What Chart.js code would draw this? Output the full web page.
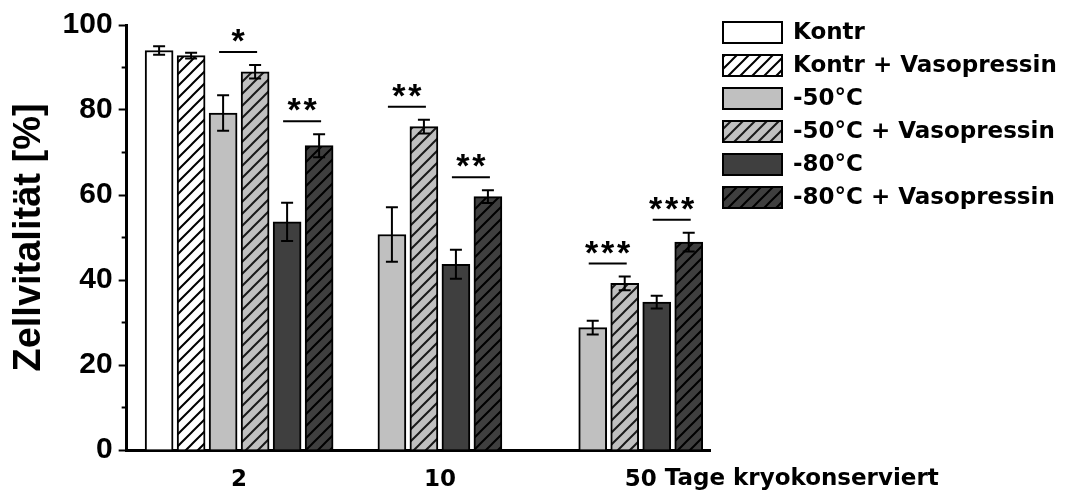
<!DOCTYPE html>
<html>
<head>
<meta charset="utf-8">
<script src="https://cdn.jsdelivr.net/npm/chart.js@4.4.1/dist/chart.umd.min.js"></script>
<style>
  html, body { margin: 0; padding: 0; background: #fff; }
  #wrap { width: 1070px; height: 496px; }
</style>
</head>
<body>
<div id="wrap"><canvas id="c" width="1070" height="496"></canvas></div>
<script>
// Storage time groups (days) and axis texts
const categories = ['2', '10', '50'];
const xAxisTitle = 'Tage kryokonserviert';
const yAxisTitle = 'Zellvitalität [%]';
const yTicks = [0, 20, 40, 60, 80, 100];
const yMinorTicks = [10, 30, 50, 70, 90];

// Series: mean cell viability and error per group
const seriesNames = ['Kontr', 'Kontr + Vasopressin', '-50°C', '-50°C + Vasopressin', '-80°C', '-80°C + Vasopressin'];
const kontr = [94.0, null, null];
const kontrErr = [1.0, null, null];
const kontrVaso = [92.8, null, null];
const kontrVasoErr = [0.7, null, null];
const minus50 = [79.3, 50.7, 28.8];
const minus50Err = [4.2, 6.4, 1.6];
const minus50Vaso = [89.0, 76.1, 39.2];
const minus50VasoErr = [1.6, 1.6, 1.6];
const minus80 = [53.7, 43.7, 34.8];
const minus80Err = [4.5, 3.4, 1.5];
const minus80Vaso = [71.6, 59.6, 48.9];
const minus80VasoErr = [2.7, 1.5, 2.2];

// Significance brackets: group index, compared series pair, label
const sigGroup = [0, 0, 1, 1, 2, 2];
const sigPairs = [[2, 3], [4, 5], [2, 3], [4, 5], [2, 3], [4, 5]];
const sigLabels = ['*', '**', '**', '**', '***', '***'];

const seriesValues = [kontr, kontrVaso, minus50, minus50Vaso, minus80, minus80Vaso];
const seriesErrors = [kontrErr, kontrVasoErr, minus50Err, minus50VasoErr, minus80Err, minus80VasoErr];

// Diagonal hatch fill
function hatch(bg, fg) {
  const s = 12;
  const c = document.createElement('canvas');
  c.width = s; c.height = s;
  const g = c.getContext('2d');
  g.fillStyle = bg;
  g.fillRect(0, 0, s, s);
  g.strokeStyle = fg;
  g.lineWidth = 2;
  g.beginPath();
  g.moveTo(-2, s + 2); g.lineTo(s + 2, -2);
  g.moveTo(-2, 2); g.lineTo(2, -2);
  g.moveTo(s - 2, s + 2); g.lineTo(s + 2, s - 2);
  g.stroke();
  return g.createPattern(c, 'repeat');
}

const LIGHT = '#c0c0c0';
const DARK = '#3f3f3f';
const fills = [
  '#ffffff',
  hatch('#ffffff', '#000000'),
  LIGHT,
  hatch(LIGHT, '#1a1a1a'),
  DARK,
  hatch(DARK, '#000000')
];

const datasets = seriesNames.map((name, k) => ({
  label: name,
  data: seriesValues[k].map((v, i) => ({ x: i, y: v })),
  backgroundColor: fills[k],
  borderColor: '#000',
  borderWidth: 2
}));

const sansBold = (size, family) => ({ family: family || 'Liberation Sans', weight: 'bold', size: size });

// Error bars drawn from the series errors
const errorBars = {
  id: 'errorBars',
  afterDatasetsDraw(chart) {
    const ctx = chart.ctx;
    const y = chart.scales.y;
    ctx.save();
    ctx.strokeStyle = '#000';
    ctx.lineWidth = 2;
    chart.data.datasets.forEach((ds, k) => {
      const meta = chart.getDatasetMeta(k);
      meta.data.forEach((bar, i) => {
        const v = seriesValues[k][i];
        const e = seriesErrors[k][i];
        if (v == null || e == null) return;
        const yt = y.getPixelForValue(v + e);
        const yb = y.getPixelForValue(v - e);
        ctx.beginPath();
        ctx.moveTo(bar.x, yt); ctx.lineTo(bar.x, yb);
        ctx.moveTo(bar.x - 6, yt); ctx.lineTo(bar.x + 6, yt);
        ctx.moveTo(bar.x - 6, yb); ctx.lineTo(bar.x + 6, yb);
        ctx.stroke();
      });
    });
    ctx.restore();
  }
};

// Significance lines with asterisks, minor y ticks, x axis title, legend
const annotations = {
  id: 'annotations',
  afterDraw(chart) {
    const ctx = chart.ctx;
    const y = chart.scales.y;
    const x = chart.scales.x;
    ctx.save();
    ctx.strokeStyle = '#000';
    ctx.fillStyle = '#000';
    ctx.lineWidth = 2;
    sigLabels.forEach((lab, k) => {
      const gi = sigGroup[k];
      const [a, b] = sigPairs[k];
      const ea = chart.getDatasetMeta(a).data[gi];
      const eb = chart.getDatasetMeta(b).data[gi];
      const cx = (ea.x + eb.x) / 2 - 1;
      const top = Math.min(
        y.getPixelForValue(seriesValues[a][gi] + seriesErrors[a][gi]),
        y.getPixelForValue(seriesValues[b][gi] + seriesErrors[b][gi])
      );
      const ly = top - 13;
      ctx.beginPath();
      ctx.moveTo(cx - 19, ly); ctx.lineTo(cx + 19, ly);
      ctx.stroke();
      ctx.font = 'bold 34px "Liberation Sans"';
      ctx.textAlign = 'center';
      ctx.textBaseline = 'alphabetic';
      const n = lab.length;
      for (let j = 0; j < n; j++) {
        ctx.fillText('*', cx + (j - (n - 1) / 2) * 16, ly - 19 + 19);
      }
    });
    // minor ticks on the value axis
    yMinorTicks.forEach(v => {
      const py = y.getPixelForValue(v);
      ctx.beginPath();
      ctx.moveTo(chart.chartArea.left - 5, py);
      ctx.lineTo(chart.chartArea.left, py);
      ctx.stroke();
    });
    // axis title following the last group label
    ctx.font = 'bold 23px "DejaVu Sans"';
    ctx.textAlign = 'left';
    ctx.textBaseline = 'middle';
    const lastX = x.getPixelForValue(categories.length - 1);
    const tx = lastX + ctx.measureText(categories[categories.length - 1]).width / 2 + ctx.measureText(' ').width;
    ctx.fillText(xAxisTitle, tx, 479);

    // legend
    const lx = 723, ly0 = 22, bw = 59, bh = 21, step = 33;
    chart.data.datasets.forEach((ds, k) => {
      const by = ly0 + k * step;
      ctx.fillStyle = ds.backgroundColor;
      ctx.fillRect(lx, by, bw, bh);
      ctx.strokeStyle = '#000';
      ctx.lineWidth = 2;
      ctx.strokeRect(lx, by, bw, bh);
      ctx.fillStyle = '#000';
      ctx.fillText(ds.label, lx + bw + 11, by + bh / 2 + 1);
    });
    ctx.restore();
  }
};

new Chart(document.getElementById('c'), {
  type: 'bar',
  data: { datasets: datasets },
  plugins: [errorBars, annotations],
  options: {
    responsive: false,
    animation: false,
    devicePixelRatio: 1,
    layout: { padding: { top: 10, left: 7, right: 360, bottom: 0 } },
    datasets: {
      bar: {
        skipNull: true,
        barThickness: 32,
        maxBarThickness: 28,
        grouped: true
      }
    },
    plugins: {
      legend: { display: false },
      tooltip: { enabled: false }
    },
    scales: {
      x: {
        type: 'linear',
        offset: false,
        min: -0.56,
        max: 2.345,
        afterBuildTicks: s => { s.ticks = categories.map((_, i) => ({ value: i })); },
        afterFit: s => { s.height = 46; },
        ticks: {
          callback: v => categories[v] ?? '',
          font: sansBold(23, 'DejaVu Sans'),
          color: '#000',
          padding: 16,
          autoSkip: false,
          maxRotation: 0
        },
        grid: { display: false, drawTicks: false, offset: false },
        border: { display: true, color: '#000', width: 3 }
      },
      y: {
        min: 0,
        max: 100,
        afterBuildTicks: s => { s.ticks = yTicks.map(v => ({ value: v })); },
        afterFit: s => { s.paddingTop = 25; },
        ticks: {
          font: sansBold(30),
          color: '#000',
          padding: 6
        },
        grid: { drawOnChartArea: false, tickLength: 8, tickWidth: 2, tickColor: '#000' },
        border: { display: true, color: '#000', width: 3 },
        title: {
          display: true,
          text: yAxisTitle,
          font: sansBold(38),
          color: '#000',
          padding: { top: 0, bottom: 4 }
        }
      }
    }
  }
});
</script>
</body>
</html>
